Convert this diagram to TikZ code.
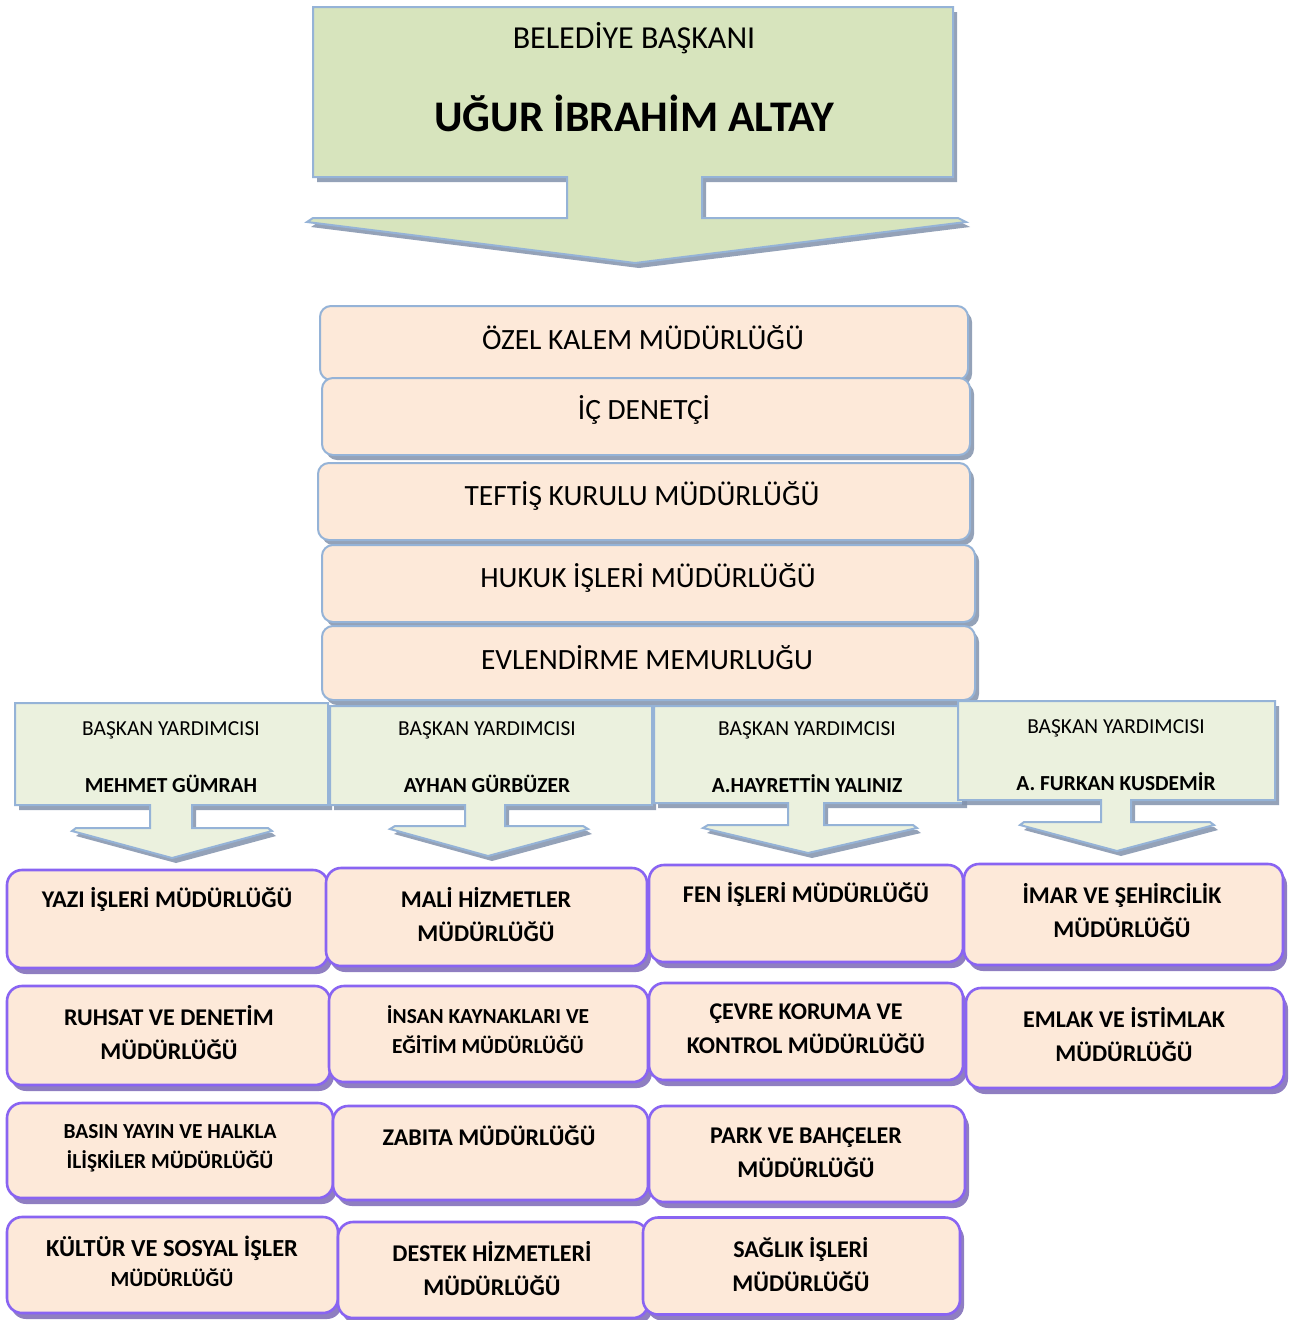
\documentclass[tikz,border=0pt]{standalone}
\usepackage{fontspec}
\setmainfont{Carlito}
\usetikzlibrary{shadows}
\definecolor{topgreen}{RGB}{215,228,189}
\definecolor{depgreen}{RGB}{235,241,222}
\definecolor{peach}{RGB}{253,233,217}
\definecolor{lblue}{RGB}{149,179,215}
\definecolor{purp}{RGB}{137,100,242}
\definecolor{bshadow}{RGB}{130,146,172}
\definecolor{pshadow}{RGB}{138,120,190}
\tikzset{
  bshad/.style={drop shadow={shadow xshift=4pt,shadow yshift=-5pt,fill=bshadow,opacity=0.85}},
  pshad/.style={drop shadow={shadow xshift=4pt,shadow yshift=-6pt,fill=pshadow,opacity=0.95}},
  bigshape/.style={fill=topgreen,draw=lblue,line width=2pt,line join=miter,bshad},
  depshape/.style={fill=depgreen,draw=lblue,line width=2pt,line join=miter,bshad},
  tbox/.style={rectangle,rounded corners=11pt,fill=peach,draw=lblue,line width=2pt,inner sep=0pt,outer sep=0pt,bshad},
  pbox/.style={rectangle,rounded corners=15pt,fill=peach,draw=purp,line width=2.6pt,inner sep=0pt,outer sep=0pt,pshad},
  ttxt/.style={inner sep=0pt,font=\fontsize{29.4}{34}\selectfont},
  deptxt/.style={inner sep=0pt,font=\fontsize{21.4}{24}\selectfont},
  depname/.style={inner sep=0pt,font=\bfseries\fontsize{21.4}{24}\selectfont},
  btxt/.style={inner sep=0pt,align=center,font=\bfseries\fontsize{24}{34}\selectfont},
  stxt/.style={inner sep=0pt,align=center,font=\bfseries\fontsize{21.4}{30}\selectfont},
}
\begin{document}
\begin{tikzpicture}[x=1pt,y=-1pt]
\useasboundingbox (0,0) rectangle (1293,1320);
\fill[white] (0,0) rectangle (1293,1320);

% mayor box with arrow
\draw[bigshape] (313,7) -- (953,7) -- (953,177) -- (702,177) -- (702,218) -- (958,218)
  -- (966,222) -- (635,263) -- (307,222) -- (313,218) -- (567,218) -- (567,177) -- (313,177) -- cycle;
\node[inner sep=0pt,font=\fontsize{32}{36}\selectfont] (baskan) at (634,38) {BELEDİYE BAŞKANI};
\node[inner sep=0pt,font=\bfseries\fontsize{43.7}{48}\selectfont] (altay) at (634,113) {UĞUR İBRAHİM ALTAY};

% stacked offices
\node[tbox,minimum width=648,minimum height=74] (ozel) at (644,343) {};
\node[ttxt] (ozelt) at (643,338) {ÖZEL KALEM MÜDÜRLÜĞÜ};
\node[tbox,minimum width=648,minimum height=77] (ic) at (646,416.5) {};
\node[ttxt] (ict) at (644,410) {İÇ DENETÇİ};
\node[tbox,minimum width=652,minimum height=77] (teftis) at (644,501.5) {};
\node[ttxt] (teftist) at (642,496) {TEFTİŞ KURULU MÜDÜRLÜĞÜ};
\node[tbox,minimum width=653,minimum height=77] (hukuk) at (648.5,583.5) {};
\node[ttxt] (hukukt) at (648,578) {HUKUK İŞLERİ MÜDÜRLÜĞÜ};
\node[tbox,minimum width=653,minimum height=74] (evlen) at (648.5,663) {};
\node[ttxt] (evlent) at (647,658) {EVLENDİRME MEMURLUĞU};

% deputies with arrows
\draw[depshape] (15,703) -- (328,703) -- (328,805) -- (192,805) -- (192,828) -- (268,828) -- (272,831)
  -- (172,858) -- (72,831) -- (76,828) -- (150,828) -- (150,805) -- (15,805) -- cycle;
\node[deptxt] (d1a) at (171,730) {BAŞKAN YARDIMCISI};
\node[depname] (d1b) at (171,784) {MEHMET GÜMRAH};

\draw[depshape] (330,706) -- (652,706) -- (652,805) -- (505,805) -- (505,826) -- (583,826) -- (588,829)
  -- (488,856) -- (390,829) -- (395,826) -- (465,826) -- (465,805) -- (330,805) -- cycle;
\node[deptxt] (d2a) at (487,730) {BAŞKAN YARDIMCISI};
\node[depname] (d2b) at (487,784) {AYHAN GÜRBÜZER};

\draw[depshape] (654,706) -- (963,706) -- (963,803) -- (824,803) -- (824,825) -- (913,825) -- (917,828)
  -- (808,853) -- (703,828) -- (708,825) -- (788,825) -- (788,803) -- (654,803) -- cycle;
\node[deptxt] (d3a) at (807,730) {BAŞKAN YARDIMCISI};
\node[depname] (d3b) at (807,784) {A.HAYRETTİN YALINIZ};

\draw[depshape] (958,701) -- (1275,701) -- (1275,800) -- (1131,800) -- (1131,822) -- (1210,822) -- (1214,825)
  -- (1117,851) -- (1020,825) -- (1024,822) -- (1101,822) -- (1101,800) -- (958,800) -- cycle;
\node[deptxt] (d4a) at (1116,728) {BAŞKAN YARDIMCISI};
\node[depname] (d4b) at (1116,782) {A. FURKAN KUSDEMİR};

% column 1
\node[pbox,minimum width=321,minimum height=98] (yazi) at (167.5,919) {};
\node[btxt] (yazit) at (167,899) {YAZI İŞLERİ MÜDÜRLÜĞÜ};
\node[pbox,minimum width=323,minimum height=99] (ruhsat) at (168.5,1035.5) {};
\node[btxt] (ruhsatt) at (169,1033) {RUHSAT VE DENETİM\\MÜDÜRLÜĞÜ};
\node[pbox,minimum width=326,minimum height=95] (basin) at (170,1150.5) {};
\node[stxt] (basint) at (170,1148.5) {BASIN YAYIN VE HALKLA\\İLİŞKİLER MÜDÜRLÜĞÜ};
\node[pbox,minimum width=331,minimum height=96] (kultur) at (172.5,1265) {};
\node[btxt] (kulturt) at (172,1261) {{\fontsize{24.5}{34}\selectfont KÜLTÜR VE SOSYAL İŞLER}\\[-4pt]{\fontsize{21.5}{30}\selectfont MÜDÜRLÜĞÜ}};

% column 2
\node[pbox,minimum width=321,minimum height=98] (mali) at (486.5,917) {};
\node[btxt] (malit) at (486,915) {MALİ HİZMETLER\\MÜDÜRLÜĞÜ};
\node[pbox,minimum width=319,minimum height=96] (insan) at (488.5,1034) {};
\node[stxt] (insant) at (488,1030) {İNSAN KAYNAKLARI VE\\EĞİTİM MÜDÜRLÜĞÜ};
\node[pbox,minimum width=315,minimum height=94] (zabita) at (490.5,1153) {};
\node[btxt] (zabitat) at (489,1136) {ZABITA MÜDÜRLÜĞÜ};
\node[pbox,minimum width=310,minimum height=96] (destek) at (493,1270) {};
\node[btxt] (destekt) at (492,1269) {DESTEK HİZMETLERİ\\MÜDÜRLÜĞÜ};

% column 3
\node[pbox,minimum width=314,minimum height=97] (fen) at (806,913.5) {};
\node[btxt] (fent) at (806,894) {FEN İŞLERİ MÜDÜRLÜĞÜ};
\node[pbox,minimum width=314,minimum height=97] (cevre) at (806,1031.5) {};
\node[btxt] (cevret) at (806,1029) {ÇEVRE KORUMA VE\\KONTROL MÜDÜRLÜĞÜ};
\node[pbox,minimum width=316,minimum height=96] (park) at (807,1154) {};
\node[btxt] (parkt) at (806,1153) {PARK VE BAHÇELER\\MÜDÜRLÜĞÜ};
\node[pbox,minimum width=317,minimum height=97] (saglik) at (801.5,1266) {};
\node[btxt] (saglikt) at (801,1265) {SAĞLIK İŞLERİ\\MÜDÜRLÜĞÜ};

% column 4
\node[pbox,minimum width=319,minimum height=101] (imar) at (1123.5,914.5) {};
\node[btxt] (imart) at (1122,911) {İMAR VE ŞEHİRCİLİK\\MÜDÜRLÜĞÜ};
\node[pbox,minimum width=318,minimum height=100] (emlak) at (1125,1038) {};
\node[btxt] (emlakt) at (1124,1035) {EMLAK VE İSTİMLAK\\MÜDÜRLÜĞÜ};
\end{tikzpicture}
\end{document}
